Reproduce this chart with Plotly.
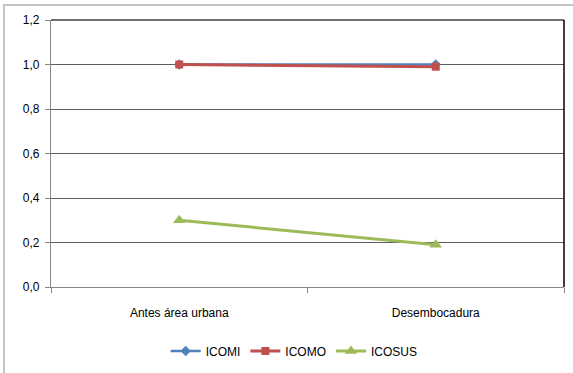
import plotly.graph_objects as go

# Data
categories = ["Antes área urbana", "Desembocadura"]
icomi = [1.0, 1.0]
icomo = [1.0, 0.99]
icosus = [0.30, 0.19]
y_ticks = [0.0, 0.2, 0.4, 0.6, 0.8, 1.0, 1.2]
y_tick_labels = ["0,0", "0,2", "0,4", "0,6", "0,8", "1,0", "1,2"]

FONT = "Liberation Sans"

fig = go.Figure()
fig.add_trace(go.Scatter(
    x=categories, y=icomi, name="ICOMI", mode="lines+markers",
    line=dict(color="#4F81BD", width=2.5),
    marker=dict(symbol="diamond", size=8, color="#4F81BD"),
))
fig.add_trace(go.Scatter(
    x=categories, y=icomo, name="ICOMO", mode="lines+markers",
    line=dict(color="#C0504D", width=3),
    marker=dict(symbol="square", size=8, color="#C0504D"),
))
fig.add_trace(go.Scatter(
    x=categories, y=icosus, name="ICOSUS", mode="lines+markers",
    line=dict(color="#9BBB59", width=3),
    marker=dict(symbol="triangle-up", size=11, color="#9BBB59"),
))

fig.update_layout(
    width=573, height=373,
    margin=dict(l=51, r=9, t=20, b=85),
    paper_bgcolor="white", plot_bgcolor="white",
    font=dict(family=FONT, size=12, color="#000000"),
    showlegend=True,
    legend=dict(
        orientation="h", x=0.474, xanchor="center", y=-0.235, yanchor="middle",
        font=dict(family=FONT, size=12), itemwidth=30, tracegroupgap=0,
    ),
    xaxis=dict(
        type="category", range=[-0.5, 1.5],
        showgrid=False, showline=True, linecolor="#868686", linewidth=1,
        ticks="outside", tickson="boundaries", ticklen=5, tickcolor="#868686",
        tickfont=dict(family=FONT, size=12), ticklabelstandoff=15,
    ),
    yaxis=dict(
        range=[0, 1.2], tickvals=y_ticks, ticktext=y_tick_labels,
        showgrid=True, gridcolor="#5e5e5e", gridwidth=1.4,
        showline=True, linecolor="#868686", linewidth=1.3,
        ticks="outside", ticklen=5, tickcolor="#868686",
        tickfont=dict(family=FONT, size=12), zeroline=False,
        ticklabelstandoff=3,
    ),
    shapes=[
        # outer chart border
        dict(type="rect", xref="paper", yref="paper",
             x0=-0.0916, x1=1.05, y0=-0.4, y1=1.056,
             line=dict(color="#C4C4C4", width=2), layer="below"),
        # top and right edges of the plot area
        dict(type="line", xref="paper", yref="paper", x0=0, x1=1, y0=1, y1=1,
             line=dict(color="#404040", width=1.5)),
        dict(type="line", xref="paper", yref="paper", x0=1, x1=1, y0=0, y1=1,
             line=dict(color="#000000", width=1.5)),
    ],
)

fig.write_html("out.html")
